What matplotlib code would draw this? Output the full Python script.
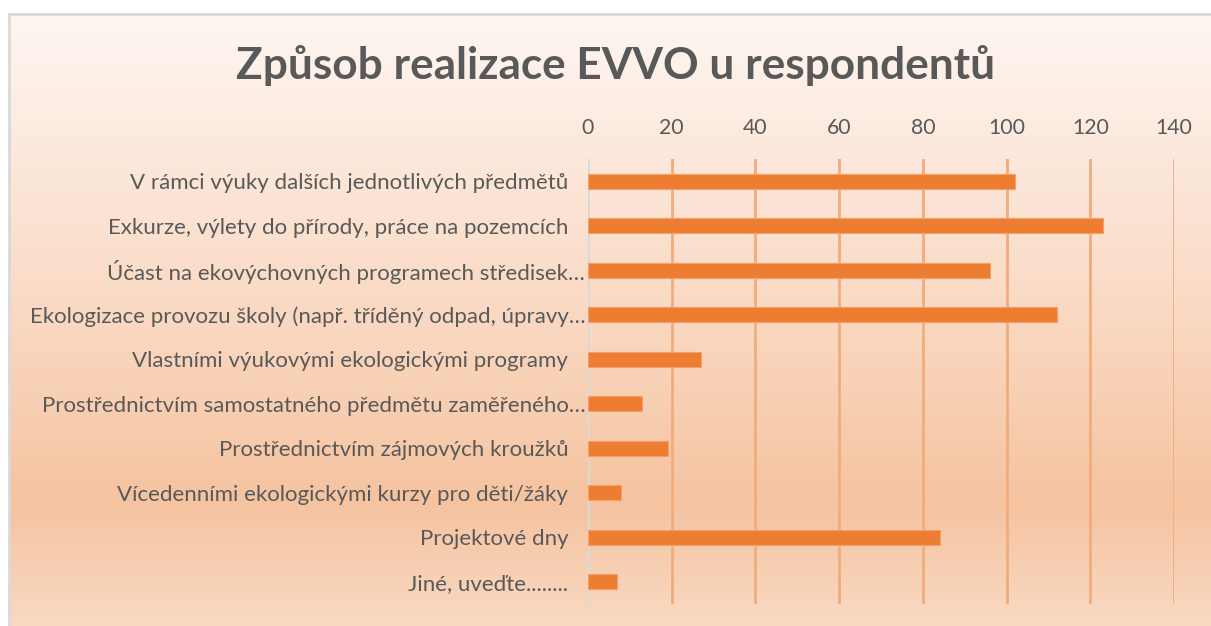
import numpy as np
import matplotlib
matplotlib.use('Agg')
import matplotlib.pyplot as plt
import matplotlib.transforms as mtransforms
from matplotlib.colors import LinearSegmentedColormap
from matplotlib.patches import Rectangle

plt.rcParams['font.family'] = ['Lato', 'DejaVu Sans']

categories = [
    'V rámci výuky dalších jednotlivých předmětů',
    'Exkurze, výlety do přírody, práce na pozemcích',
    'Účast na ekovýchovných programech středisek…',
    'Ekologizace provozu školy (např. tříděný odpad, úpravy…',
    'Vlastními výukovými ekologickými programy',
    'Prostřednictvím samostatného předmětu zaměřeného…',
    'Prostřednictvím zájmových kroužků',
    'Vícedenními ekologickými kurzy pro děti/žáky',
    'Projektové dny',
    'Jiné, uveďte........',
]
values = [102, 123, 96, 112, 27, 13, 19, 8, 84, 7]
ticks = [0, 20, 40, 60, 80, 100, 120, 140]
title = 'Způsob realizace EVVO u respondentů'

W, H = 1211, 626
fig = plt.figure(figsize=(W / 100, H / 100), dpi=100)
fig.patch.set_facecolor('white')

# gradient background of the chart area
bg = fig.add_axes([0, 0, 1, 1], zorder=0)
bg.set_axis_off()
cmap = LinearSegmentedColormap.from_list(
    'peach', [(0.0, '#FEF6F1'), (0.25, '#FCE7DA'), (0.55, '#F9D5BC'),
              (0.80, '#F5C3A0'), (1.0, '#F9D9C2')])
grad = np.linspace(0, 1, 400).reshape(-1, 1)
top = 1 - 14 / H
bg.imshow(grad, aspect='auto', cmap=cmap, extent=[9 / W, 1, 0, top],
          transform=fig.transFigure, zorder=0)
bg.set_xlim(0, 1)
bg.set_ylim(0, 1)
fig.patches.append(Rectangle((9 / W, -0.01), 1, top + 0.01, transform=fig.transFigure,
                             fill=False, edgecolor='#D9D9D9', linewidth=2, zorder=1))

ax = fig.add_axes([588 / W, 22 / H, (1174 - 588) / W, (603.75 - 158.75) / H], zorder=2)
ax.patch.set_alpha(0)
y = np.arange(len(categories))
ax.barh(y, values, height=0.34, color='#ED7D31', edgecolor='#F4A06A', linewidth=0.8, zorder=3)
ax.set_ylim(len(categories) - 0.5, -0.5)
ax.set_xlim(0, 140)
ax.set_xticks(ticks)
ax.xaxis.tick_top()
ax.tick_params(axis='x', length=0, pad=15, labelsize=15.3, labelcolor='#595959')
ax.tick_params(axis='y', length=0, pad=2, labelsize=16, labelcolor='#595959')
ax.set_yticks(y)
ax.set_yticklabels(categories)
# untruncated labels sit a bit further left than the ones cut with an ellipsis
shift = mtransforms.ScaledTranslation(-17 / 100, 0, fig.dpi_scale_trans)
for lab in ax.get_yticklabels():
    if not lab.get_text().endswith('…'):
        lab.set_transform(lab.get_transform() + shift)
for t in ticks[1:]:
    ax.axvline(t, color='#F2AC7C', linewidth=2, zorder=1)
ax.axvline(0, color='#D9D9D9', linewidth=2, zorder=2)
for s in ax.spines.values():
    s.set_visible(False)

fig.text(616 / W, 1 - 66 / H, title, ha='center', va='center', fontsize=31.8,
         fontweight='bold', color='#595959')

fig.savefig('out.png', dpi=100)
